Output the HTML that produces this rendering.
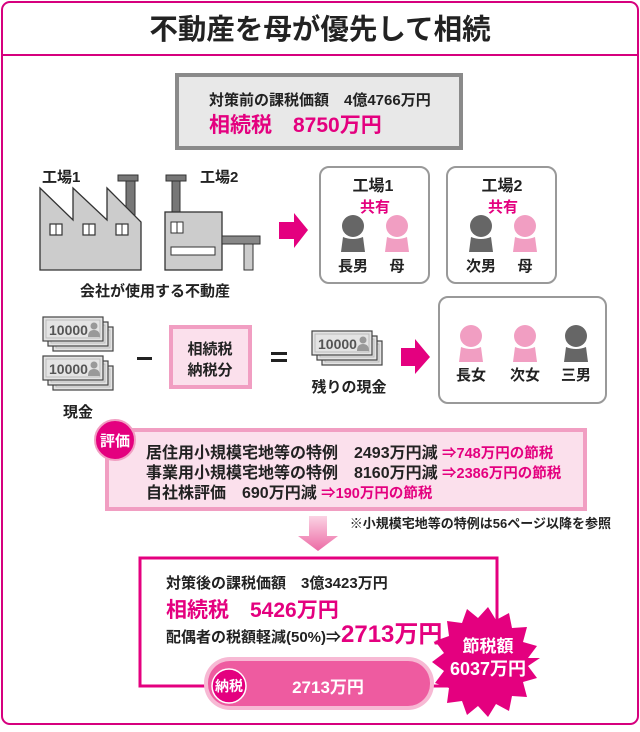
<!DOCTYPE html>
<html><head><meta charset="utf-8"><style>
html,body{margin:0;padding:0;background:#fff}
svg{display:block}
text{font-family:"Liberation Sans","Noto Sans CJK JP",sans-serif;font-weight:bold}
</style></head><body>
<svg width="640" height="732" viewBox="0 0 640 732" xmlns="http://www.w3.org/2000/svg">
<defs>
<linearGradient id="ag" x1="0" y1="0" x2="0" y2="1"><stop offset="0" stop-color="#fbd3e4"/><stop offset="1" stop-color="#ec6aa5"/></linearGradient>
<g id="bill"><rect x="0" y="0" width="60" height="24" fill="#e4e4e4" stroke="#444" stroke-width="1.2"/><rect x="3" y="3" width="54" height="18" fill="none" stroke="#bbb" stroke-width="1"/></g>
<g id="stack"><use href="#bill" x="10" y="10"/><use href="#bill" x="5" y="5"/><use href="#bill" x="0" y="0"/><text x="6" y="18" font-size="14" fill="#555">10000</text><circle cx="51" cy="9" r="3.5" fill="#999"/><path d="M45 20 Q45 13 51 13 Q57 13 57 20Z" fill="#999"/></g>
<g id="pp"><circle cx="0" cy="-26" r="11"/><path d="M-12 0 L-10 -15 Q0 -11 10 -15 L12 0Z"/></g>
</defs>
<rect x="2" y="2" width="636" height="722" rx="8" fill="#fff" stroke="#d6007e" stroke-width="2"/>
<line x1="2" y1="55" x2="638" y2="55" stroke="#d6007e" stroke-width="2"/>
<text x="320" y="39" font-size="28.5" text-anchor="middle" fill="#222">不動産を母が優先して相続</text>

<rect x="177" y="75" width="284" height="73" fill="#e8e8e8" stroke="#8a8a8a" stroke-width="4"/>
<text x="209" y="105" font-size="15" fill="#222">対策前の課税価額　4億4766万円</text>
<text x="209" y="132" font-size="21" fill="#e4007f">相続税　8750万円</text>

<!-- factories -->
<text x="42" y="182" font-size="15" fill="#222">工場1</text>
<text x="200" y="182" font-size="15" fill="#222">工場2</text>
<rect x="118" y="175" width="20" height="6" fill="#777" stroke="#333"/><rect x="126" y="181" width="9" height="35" fill="#777" stroke="#333"/>
<polygon points="40,188 73,220 73,188 107,220 107,188 141,222 141,270 40,270" fill="#ccc" stroke="#333" stroke-width="1.3"/>
<g fill="#fff" stroke="#333" stroke-width="1.2"><rect x="50" y="224" width="12" height="11"/><rect x="83" y="224" width="12" height="11"/><rect x="116" y="224" width="12" height="11"/></g>
<g stroke="#333" stroke-width="1"><line x1="56" y1="224" x2="56" y2="235"/><line x1="89" y1="224" x2="89" y2="235"/><line x1="122" y1="224" x2="122" y2="235"/></g>
<rect x="166" y="175" width="20" height="6" fill="#777" stroke="#333"/><rect x="172" y="181" width="8" height="31" fill="#777" stroke="#333"/>
<rect x="165" y="212" width="57" height="58" fill="#ccc" stroke="#333" stroke-width="1.3"/>
<rect x="222" y="236" width="38" height="8" fill="#888" stroke="#333"/><rect x="244" y="244" width="9" height="26" fill="#ccc" stroke="#333"/>
<rect x="171" y="222" width="12" height="11" fill="#fff" stroke="#333"/><line x1="177" y1="222" x2="177" y2="233" stroke="#333"/>
<rect x="171" y="247" width="44" height="8" fill="#fff" stroke="#333"/>
<text x="155" y="296" font-size="15" text-anchor="middle" fill="#222">会社が使用する不動産</text>
<polygon points="279,222 294,222 294,213 308,230 294,248 294,239 279,239" fill="#e4007f"/>

<rect x="320" y="167" width="109" height="116" rx="9" fill="#fff" stroke="#999" stroke-width="2"/>
<rect x="447" y="167" width="109" height="116" rx="9" fill="#fff" stroke="#999" stroke-width="2"/>
<text x="373" y="191" font-size="16" text-anchor="middle" fill="#222">工場1</text>
<text x="502" y="191" font-size="16" text-anchor="middle" fill="#222">工場2</text>
<text x="375" y="212" font-size="15" text-anchor="middle" fill="#e4007f">共有</text>
<text x="503" y="212" font-size="15" text-anchor="middle" fill="#e4007f">共有</text>
<use href="#pp" x="353" y="252" fill="#666"/><use href="#pp" x="397" y="252" fill="#f19ec2"/>
<use href="#pp" x="481" y="252" fill="#666"/><use href="#pp" x="525" y="252" fill="#f19ec2"/>
<text x="353" y="271" font-size="15" text-anchor="middle" fill="#222">長男</text>
<text x="397" y="271" font-size="15" text-anchor="middle" fill="#222">母</text>
<text x="481" y="271" font-size="15" text-anchor="middle" fill="#222">次男</text>
<text x="525" y="271" font-size="15" text-anchor="middle" fill="#222">母</text>

<!-- money row -->
<use href="#stack" x="43" y="317"/><use href="#stack" x="43" y="356"/>
<text x="78" y="417" font-size="15" text-anchor="middle" fill="#222">現金</text>
<rect x="137" y="357" width="15" height="3" fill="#222"/>
<rect x="171" y="327" width="79" height="60" fill="#fbe0ec" stroke="#f19ec2" stroke-width="4"/>
<text x="210" y="354" font-size="15" text-anchor="middle" fill="#222">相続税</text>
<text x="210" y="375" font-size="15" text-anchor="middle" fill="#222">納税分</text>
<rect x="271" y="352" width="16" height="3" fill="#222"/><rect x="271" y="359" width="16" height="3" fill="#222"/>
<use href="#stack" x="312" y="331"/>
<text x="349" y="392" font-size="15" text-anchor="middle" fill="#222">残りの現金</text>
<polygon points="401,348 415,348 415,339 430,357 415,374 415,366 401,366" fill="#e4007f"/>
<rect x="439" y="297" width="167" height="106" rx="9" fill="#fff" stroke="#999" stroke-width="2"/>
<use href="#pp" x="471" y="362" fill="#f19ec2"/><use href="#pp" x="525" y="362" fill="#f19ec2"/><use href="#pp" x="576" y="362" fill="#666"/>
<text x="471" y="380" font-size="15" text-anchor="middle" fill="#222">長女</text>
<text x="525" y="380" font-size="15" text-anchor="middle" fill="#222">次女</text>
<text x="576" y="380" font-size="15" text-anchor="middle" fill="#222">三男</text>

<!-- evaluation -->
<rect x="107" y="430" width="478" height="79" fill="#fbe0ec" stroke="#f19ec2" stroke-width="4"/>
<circle cx="115" cy="440" r="20" fill="#e4007f" stroke="#f19ec2" stroke-width="2"/>
<text x="115" y="446" font-size="15" text-anchor="middle" fill="#fff">評価</text>
<text x="146" y="458" font-size="16" fill="#222">居住用小規模宅地等の特例　2493万円減 <tspan fill="#e4007f" font-size="14.5">⇒748万円の節税</tspan></text>
<text x="146" y="478" font-size="16" fill="#222">事業用小規模宅地等の特例　8160万円減 <tspan fill="#e4007f" font-size="14.5">⇒2386万円の節税</tspan></text>
<text x="146" y="498" font-size="16" fill="#222">自社株評価　690万円減 <tspan fill="#e4007f" font-size="14.5">⇒190万円の節税</tspan></text>
<text x="611" y="528" font-size="13" font-weight="normal" text-anchor="end" fill="#222">※小規模宅地等の特例は56ページ以降を参照</text>
<polygon points="309,516 327,516 327,536 338,536 318,551 298,536 309,536" fill="url(#ag)"/>

<!-- bottom -->
<rect x="140" y="558" width="357" height="128" fill="#fff" stroke="#e4007f" stroke-width="3"/>
<text x="166" y="588" font-size="15" fill="#222">対策後の課税価額　3億3423万円</text>
<text x="166" y="617" font-size="21" fill="#e4007f">相続税　5426万円</text>
<text x="166" y="642" font-size="15" fill="#222">配偶者の税額軽減(50%)⇒<tspan fill="#e4007f" font-size="24">2713万円</tspan></text>
<rect x="204" y="657" width="230" height="53" rx="26" fill="#f7b9d4"/>
<rect x="208" y="661" width="222" height="45" rx="22" fill="#ee5ba0"/>
<circle cx="229" cy="686" r="17" fill="#e4007f" stroke="#fff" stroke-width="1.5"/>
<text x="229" y="691" font-size="14" text-anchor="middle" fill="#fff">納税</text>
<text x="328" y="693" font-size="17" text-anchor="middle" fill="#fff">2713万円</text>
<g transform="translate(8,0)">
<polygon fill="#e4007f" points="
532,658 520,666 529,678 515,682 519,697 504,696 501,711 488,704 480,717 470,706 459,715 454,701 439,703 441,688 427,683 436,671 424,662 436,653 427,641 441,636 439,621 454,623 459,609 470,618 480,607 488,620 501,613 504,628 519,627 515,642 529,646 520,658"/>
<text x="480" y="652" font-size="17" text-anchor="middle" fill="#fff">節税額</text>
<text x="480" y="675" font-size="18" text-anchor="middle" fill="#fff">6037万円</text>
</g>
</svg>
</body></html>
